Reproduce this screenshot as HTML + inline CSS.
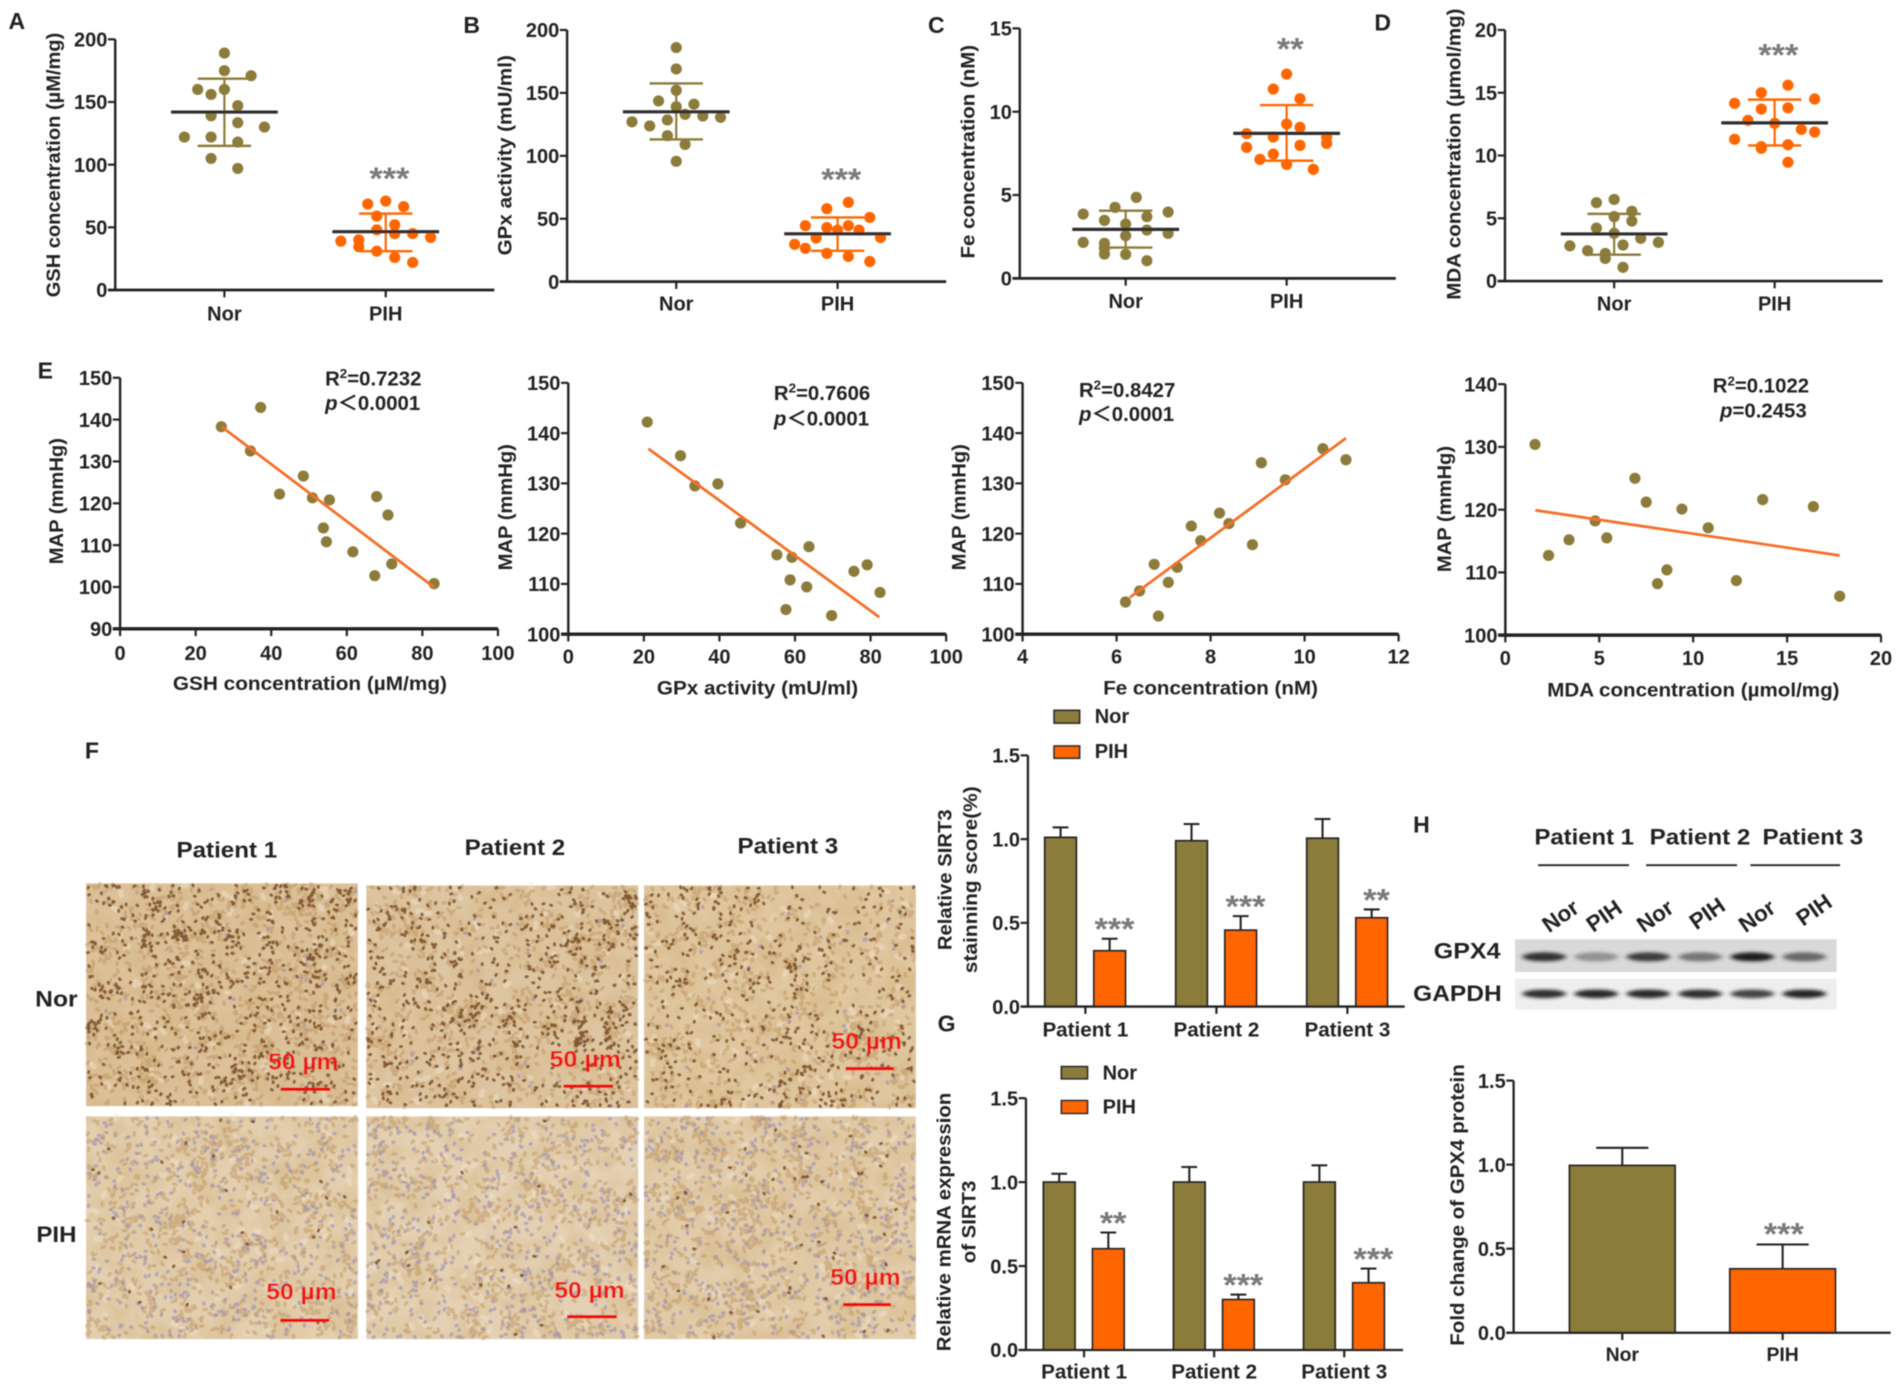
<!DOCTYPE html>
<html lang="en">
<head>
<meta charset="utf-8">
<title>Multi-panel figure: GSH, GPx, Fe, MDA and SIRT3 in Nor vs PIH</title>
<style>
html,body{margin:0;padding:0;background:#fff;}
svg{display:block;}
text{font-family:"Liberation Sans","Noto Sans CJK SC",sans-serif;font-weight:bold;fill:#222;}
</style>
</head>
<body>
<svg id="figure" xmlns="http://www.w3.org/2000/svg" width="1902" height="1387" viewBox="0 0 1568 1143" preserveAspectRatio="none">
  <defs>
    <filter id="soft" filterUnits="userSpaceOnUse" x="0" y="0" width="1568" height="1143"><feGaussianBlur stdDeviation="0.5"/></filter>
    <filter id="bandBlur" x="-40%" y="-120%" width="180%" height="340%"><feGaussianBlur stdDeviation="2.2 1.4"/></filter>
    <filter id="mottle" x="0" y="0" width="100%" height="100%">
      <feTurbulence type="fractalNoise" baseFrequency="0.045" numOctaves="3" seed="7"/>
      <feColorMatrix type="matrix" values="0 0 0 0 0.62  0 0 0 0 0.42  0 0 0 0 0.18  2.2 0 0 0 -0.85"/>
    </filter>
  </defs>
  <rect x="0" y="0" width="1568" height="1143" fill="#ffffff"/>
  <g id="root" filter="url(#soft)">
    <g id="layer-tissue"></g>
    <g id="layer-blot"></g>
    <g id="layer-charts"></g>

    <g font-size="19">
      <text x="7" y="24">A</text>
      <text x="382" y="27">B</text>
      <text x="765" y="27">C</text>
      <text x="1133" y="25">D</text>
      <text x="31" y="312">E</text>
      <text x="70" y="625">F</text>
      <text x="773" y="850">G</text>
      <text x="1165" y="686">H</text>
    </g>

    <g text-anchor="middle" font-size="16">
      <text transform="translate(49.5,136) rotate(-90)" textLength="218" lengthAdjust="spacingAndGlyphs">GSH concentration (µM/mg)</text>
      <text transform="translate(421.5,128) rotate(-90)" textLength="165" lengthAdjust="spacingAndGlyphs">GPx activity (mU/ml)</text>
      <text transform="translate(803.5,125) rotate(-90)" textLength="176" lengthAdjust="spacingAndGlyphs">Fe concentration (nM)</text>
      <text transform="translate(1204,127) rotate(-90)" textLength="240" lengthAdjust="spacingAndGlyphs">MDA concentration (µmol/mg)</text>
      <text transform="translate(52,413) rotate(-90)" textLength="104" lengthAdjust="spacingAndGlyphs">MAP (mmHg)</text>
      <text transform="translate(422,418) rotate(-90)" textLength="104" lengthAdjust="spacingAndGlyphs">MAP (mmHg)</text>
      <text transform="translate(796,418) rotate(-90)" textLength="104" lengthAdjust="spacingAndGlyphs">MAP (mmHg)</text>
      <text transform="translate(1196,419.5) rotate(-90)" textLength="104" lengthAdjust="spacingAndGlyphs">MAP (mmHg)</text>
      <text transform="translate(784.5,725) rotate(-90)" textLength="116" lengthAdjust="spacingAndGlyphs">Relative SIRT3</text>
      <text transform="translate(805.5,725) rotate(-90)" textLength="154" lengthAdjust="spacingAndGlyphs">stainning score(%)</text>
      <text transform="translate(783.5,1007) rotate(-90)" textLength="213" lengthAdjust="spacingAndGlyphs">Relative mRNA expression</text>
      <text transform="translate(804,1007) rotate(-90)" textLength="68" lengthAdjust="spacingAndGlyphs">of SIRT3</text>
      <text transform="translate(1207,993) rotate(-90)" textLength="232" lengthAdjust="spacingAndGlyphs">Fold change of GPX4 protein</text>
    </g>

    <g text-anchor="middle" font-size="16">
      <text x="255.5" y="568.5" textLength="226" lengthAdjust="spacingAndGlyphs">GSH concentration (µM/mg)</text>
      <text x="624.5" y="572.5" textLength="166" lengthAdjust="spacingAndGlyphs">GPx activity (mU/ml)</text>
      <text x="998" y="572.5" textLength="177" lengthAdjust="spacingAndGlyphs">Fe concentration (nM)</text>
      <text x="1396" y="574" textLength="241" lengthAdjust="spacingAndGlyphs">MDA concentration (µmol/mg)</text>
    </g>

    <g font-size="16.8">
      <text x="268" y="317.5">R<tspan font-size="11" dy="-6">2</tspan><tspan dy="6">=0.7232</tspan></text>
      <text x="268" y="338"><tspan font-style="italic">p</tspan>＜0.0001</text>
      <text x="638" y="329.5">R<tspan font-size="11" dy="-6">2</tspan><tspan dy="6">=0.7606</tspan></text>
      <text x="638" y="350.5"><tspan font-style="italic">p</tspan>＜0.0001</text>
      <text x="889.5" y="327">R<tspan font-size="11" dy="-6">2</tspan><tspan dy="6">=0.8427</tspan></text>
      <text x="889.5" y="347"><tspan font-style="italic">p</tspan>＜0.0001</text>
      <text x="1412" y="323.5">R<tspan font-size="11" dy="-6">2</tspan><tspan dy="6">=0.1022</tspan></text>
      <text x="1418" y="344"><tspan font-style="italic">p</tspan>=0.2453</text>
    </g>

    <g font-size="18.5">
      <text x="145.5" y="706.5" textLength="83" lengthAdjust="spacingAndGlyphs">Patient 1</text>
      <text x="383" y="704.5" textLength="83" lengthAdjust="spacingAndGlyphs">Patient 2</text>
      <text x="608" y="703.5" textLength="83" lengthAdjust="spacingAndGlyphs">Patient 3</text>
      <text x="29" y="829.5" textLength="35" lengthAdjust="spacingAndGlyphs">Nor</text>
      <text x="30" y="1023.5" textLength="33" lengthAdjust="spacingAndGlyphs">PIH</text>
    </g>

    <g font-size="18.5">
      <text x="1265" y="696" textLength="82" lengthAdjust="spacingAndGlyphs">Patient 1</text>
      <text x="1360" y="696" textLength="83" lengthAdjust="spacingAndGlyphs">Patient 2</text>
      <text x="1453" y="696" textLength="83" lengthAdjust="spacingAndGlyphs">Patient 3</text>
      <text x="1182" y="790" textLength="55" lengthAdjust="spacingAndGlyphs">GPX4</text>
      <text x="1165" y="825" textLength="73" lengthAdjust="spacingAndGlyphs">GAPDH</text>
      <line x1="1268" y1="713" x2="1343" y2="713" stroke="#222" stroke-width="1.6"/>
      <line x1="1357" y1="713" x2="1432" y2="713" stroke="#222" stroke-width="1.6"/>
      <line x1="1443" y1="713" x2="1517" y2="713" stroke="#222" stroke-width="1.6"/>
      <text transform="translate(1290,760) rotate(-35)" text-anchor="middle" font-size="18.5">Nor</text>
      <text transform="translate(1326,760) rotate(-35)" text-anchor="middle" font-size="18.5">PIH</text>
      <text transform="translate(1368,760) rotate(-35)" text-anchor="middle" font-size="18.5">Nor</text>
      <text transform="translate(1411,758) rotate(-35)" text-anchor="middle" font-size="18.5">PIH</text>
      <text transform="translate(1452,760) rotate(-35)" text-anchor="middle" font-size="18.5">Nor</text>
      <text transform="translate(1499,755) rotate(-35)" text-anchor="middle" font-size="18.5">PIH</text>
    </g>

    <g font-size="19">
      <text x="221" y="881.5" style="fill:#f01414" textLength="58" lengthAdjust="spacingAndGlyphs">50 µm</text>
      <rect x="231.3" y="896.2" width="41" height="2.8" fill="#ee1111"/>
      <text x="453" y="879.5" style="fill:#f01414" textLength="59" lengthAdjust="spacingAndGlyphs">50 µm</text>
      <rect x="464.5" y="893.7" width="41" height="2.8" fill="#ee1111"/>
      <text x="685.5" y="864.5" style="fill:#f01414" textLength="58" lengthAdjust="spacingAndGlyphs">50 µm</text>
      <rect x="697" y="879.2" width="40" height="2.8" fill="#ee1111"/>
      <text x="219.5" y="1071" style="fill:#f01414" textLength="58" lengthAdjust="spacingAndGlyphs">50 µm</text>
      <rect x="231" y="1086.7" width="40.5" height="2.8" fill="#ee1111"/>
      <text x="457" y="1069.5" style="fill:#f01414" textLength="58" lengthAdjust="spacingAndGlyphs">50 µm</text>
      <rect x="467.5" y="1083.7" width="41" height="2.8" fill="#ee1111"/>
      <text x="684.5" y="1059" style="fill:#f01414" textLength="58" lengthAdjust="spacingAndGlyphs">50 µm</text>
      <rect x="695" y="1073.7" width="39.5" height="2.8" fill="#ee1111"/>
    </g>

    <g font-size="16.5">
      <rect x="869" y="585.4" width="21" height="10.5" fill="#8c7c3b" stroke="#2b2b2b" stroke-width="1.4"/>
      <text x="902.5" y="595.8">Nor</text>
      <rect x="869" y="614.8" width="21" height="10" fill="#ff6600" stroke="#2b2b2b" stroke-width="1.4"/>
      <text x="902.5" y="624.8">PIH</text>
      <rect x="875" y="879" width="21.5" height="10" fill="#8c7c3b" stroke="#2b2b2b" stroke-width="1.4"/>
      <text x="909" y="889.5">Nor</text>
      <rect x="875" y="907" width="21.5" height="10.5" fill="#ff6600" stroke="#2b2b2b" stroke-width="1.4"/>
      <text x="909" y="917.5">PIH</text>
    </g>
  </g>
</svg>

<script>
/* ---------- Panel A: GSH ---------- */
const panelACategories = ['Nor', 'PIH'];
const panelAYTicks = ['0', '50', '100', '150', '200'];
const panelANorValues = [189, 175, 171, 160, 160, 156, 147, 139, 133.5, 130, 122, 122, 118, 105, 97];
const panelANorJitter = [0, 0, 2, -2, 0, -1, 1, -1, 1, 3, -3, -1, 1, -1, 1];
const panelAPihValues = [71, 68.6, 66.5, 59, 52, 48, 45, 45, 42, 39, 40, 34.6, 31, 26, 22];
const panelAPihJitter = [0, -2, 2, -1, 1, -1, 1, 3, 5, -5, -3, -3, -1, 1, 3];
const panelAMeans = [142, 46.5];
const panelAUpper = [168.6, 61];
const panelALower = [115, 31];
const panelAStars = ['', '***'];
const panelAStarLevels = [0, 92];

/* ---------- Panel B: GPx ---------- */
const panelBCategories = ['Nor', 'PIH'];
const panelBYTicks = ['0', '50', '100', '150', '200'];
const panelBNorValues = [186, 169, 152, 143.6, 141, 139, 133, 131.6, 130.6, 128.5, 127, 123.7, 116, 109, 95.6];
const panelBNorJitter = [0, 0, 0, -2, 2, 0, 1, 3, 5, -1, -5, -3, -1, 1, 0];
const panelBPihValues = [63, 58, 51, 44.5, 43, 44.5, 41, 41, 34.7, 35, 29.7, 26.5, 22.5, 20, 16];
const panelBPihJitter = [1, -1, 3, -3, -1, 1, 0, 2, -2, 4, -4, -3, -1, 1, 3];
const panelBMeans = [135, 38];
const panelBUpper = [157.5, 51];
const panelBLower = [113, 24.5];
const panelBStars = ['', '***'];
const panelBStarLevels = [0, 84.4];

/* ---------- Panel C: Fe ---------- */
const panelCCategories = ['Nor', 'PIH'];
const panelCYTicks = ['0', '5', '10', '15'];
const panelCNorValues = [4.86, 4.26, 3.86, 3.98, 3.7, 3.48, 3.26, 2.9, 2.7, 2.56, 2.16, 2.1, 1.8, 1.46, 1.44, 1.06];
const panelCNorJitter = [1, -1, -4, 4, 2, -2, 0, 2, 4, 0, -4, -2, -2, -2, 0, 2];
const panelCPihValues = [12.26, 11.36, 10.78, 9.26, 9.06, 8.68, 8.48, 8.48, 8.1, 7.98, 7.86, 7.46, 7.14, 6.84, 6.54];
const panelCPihJitter = [0, -1, 1, 0, 1, -3, -1, 3, 3, 1, -3, -1, -2, 0, 2];
const panelCMeans = [2.94, 8.7];
const panelCUpper = [4.06, 10.4];
const panelCLower = [1.85, 7.06];
const panelCStars = ['', '**'];
const panelCStarLevels = [0, 14];

/* ---------- Panel D: MDA ---------- */
const panelDCategories = ['Nor', 'PIH'];
const panelDYTicks = ['0', '5', '10', '15', '20'];
const panelDNorValues = [6.5, 6.24, 5.55, 5.13, 4.78, 4.22, 3.8, 3.4, 3.08, 2.87, 2.8, 2.42, 2.2, 1.8, 1.09];
const panelDNorJitter = [0, -2, 2, 0, 2, -2, 0, 3, 5, 1, -5, -3, -1, -1, 1];
const panelDPihValues = [15.6, 15, 14.16, 14.5, 13.8, 13.7, 12.8, 12.56, 12.08, 11.87, 11.29, 10.86, 10.7, 10.57, 9.46];
const panelDPihJitter = [1, -1, -3, 3, 1, -1, -2, 0, 2, 3, -3, 1, -1, -1, 1];
const panelDMeans = [3.75, 12.6];
const panelDUpper = [5.35, 14.45];
const panelDLower = [2.1, 10.8];
const panelDStars = ['', '***'];
const panelDStarLevels = [0, 18.3];

/* ---------- Panel E: correlations ---------- */
const corrGshXTicks = ['0', '20', '40', '60', '80', '100'];
const corrGshYTicks = ['90', '100', '110', '120', '130', '140', '150'];
const corrGshX = [26.8, 37.2, 34.5, 48.5, 42.2, 50.9, 55.4, 67.9, 70.9, 53.8, 54.6, 61.6, 71.9, 67.4, 83.1];
const corrGshY = [138.3, 142.9, 132.5, 126.5, 122.2, 121.3, 120.8, 121.6, 117.2, 114.1, 110.8, 108.4, 105.5, 102.7, 100.8];
const corrGshFitX = [27, 83];
const corrGshFitY = [138.2, 100];

const corrGpxXTicks = ['0', '20', '40', '60', '80', '100'];
const corrGpxYTicks = ['100', '110', '120', '130', '140', '150'];
const corrGpxX = [20.9, 29.7, 33.5, 39.6, 45.6, 55.2, 59.2, 63.7, 58.7, 63.1, 57.6, 69.7, 75.6, 79.1, 82.5];
const corrGpxY = [142.2, 135.5, 129.5, 129.9, 122.1, 115.8, 115.3, 117.4, 110.8, 109.4, 104.9, 103.7, 112.5, 113.8, 108.3];
const corrGpxFitX = [21.2, 82.3];
const corrGpxFitY = [136.9, 103.4];

const corrFeXTicks = ['4', '6', '8', '10', '12'];
const corrFeYTicks = ['100', '110', '120', '130', '140', '150'];
const corrFeX = [6.19, 6.49, 6.8, 6.89, 7.1, 7.29, 7.59, 7.79, 8.19, 8.39, 8.89, 9.08, 9.59, 10.39, 10.88];
const corrFeY = [106.4, 108.6, 113.9, 103.6, 110.3, 113.3, 121.5, 118.6, 124.1, 122, 117.8, 134.1, 130.7, 136.9, 134.7];
const corrFeFitX = [6.28, 10.88];
const corrFeFitY = [107.3, 139];

const corrMdaXTicks = ['0', '5', '10', '15', '20'];
const corrMdaYTicks = ['100', '110', '120', '130', '140'];
const corrMdaX = [1.58, 2.3, 3.39, 4.78, 5.4, 6.9, 7.5, 8.1, 8.6, 9.4, 10.8, 12.3, 13.7, 16.4, 17.8];
const corrMdaY = [130.4, 112.7, 115.2, 118.2, 115.5, 125, 121.2, 108.2, 110.4, 120.1, 117.1, 108.7, 121.6, 120.5, 106.2];
const corrMdaFitX = [1.6, 17.8];
const corrMdaFitY = [119.9, 112.7];

/* ---------- Bar panels ---------- */
const barYTicks = ['0.0', '0.5', '1.0', '1.5'];
const patientCategories = ['Patient 1', 'Patient 2', 'Patient 3'];

const stainNorValues = [1.01, 0.99, 1.005];
const stainNorErrorTops = [1.07, 1.09, 1.12];
const stainPihValues = [0.333, 0.456, 0.53];
const stainPihErrorTops = [0.405, 0.54, 0.58];
const stainStars = ['***', '***', '**'];

const mrnaNorValues = [1, 1, 1];
const mrnaNorErrorTops = [1.05, 1.09, 1.1];
const mrnaPihValues = [0.603, 0.3, 0.4];
const mrnaPihErrorTops = [0.7, 0.33, 0.485];
const mrnaStars = ['**', '***', '***'];

const proteinCategories = ['Nor', 'PIH'];
const proteinValues = [0.995, 0.38];
const proteinErrorTops = [1.1, 0.525];
const proteinStars = ['', '***'];

/* ---------- Western blot band strengths ---------- */
const gpx4BandStrength = [0.85, 0.36, 0.8, 0.5, 0.95, 0.58];
const gapdhBandStrength = [0.88, 0.9, 0.9, 0.88, 0.78, 0.92];

const OLIVE = '#8c7c3b';
const ORANGE = '#ff6600';
const INK = '#232323';
const NS = 'http://www.w3.org/2000/svg';
const chartsLayer = document.getElementById('layer-charts');

function make(tag, parent, attrs) {
  const node = document.createElementNS(NS, tag);
  for (const key in attrs) node.setAttribute(key, attrs[key]);
  parent.appendChild(node);
  return node;
}
function linear(d0, d1, r0, r1) {
  return function (v) { return r0 + (v - d0) * (r1 - r0) / (d1 - d0); };
}
function label(parent, str, x, y, anchor, size) {
  const t = make('text', parent, { x: x, y: y + size * 0.36, 'text-anchor': anchor, 'font-size': size });
  t.textContent = str;
  return t;
}
function stars(parent, str, x, y) {
  const w = str.length * 11;
  const t = make('text', parent, { x: x, y: y + 11.8, 'text-anchor': 'middle', 'font-size': 26, textLength: w, lengthAdjust: 'spacingAndGlyphs', style: 'fill:#7a7a7a' });
  t.textContent = str;
  
  
  return t;
}
function drawYAxis(parent, axisX, yScale, tickLabels, topValue, bottomValue, width) {
  const line = make('line', parent, { x1: axisX, x2: axisX, y1: yScale(topValue), y2: yScale(bottomValue), stroke: INK, 'stroke-width': width });
  
  
  tickLabels.forEach(function (tickText) {
    const v = parseFloat(tickText);
    const tick = make('line', parent, { x1: axisX - 6, x2: axisX, y1: yScale(v), y2: yScale(v), stroke: INK, 'stroke-width': 1.8 });
    
    
    const text = label(parent, tickText, axisX - 6.5, yScale(v), 'end', 16.5);
    
    
  });
}
function drawXBaseline(parent, x1, x2, y, width) {
  const base = make('line', parent, { x1: x1, x2: x2, y1: y, y2: y, stroke: INK, 'stroke-width': width });
  
  
}
function drawCategoryTick(parent, x, y, labelY, str, size) {
  const tick = make('line', parent, { x1: x, x2: x, y1: y, y2: y + 6, stroke: INK, 'stroke-width': 1.8 });
  
  
  const text = label(parent, str, x, labelY, 'middle', size);
  
  
}

/* Dot plot with mean and SD */
function drawDotPanel(cfg) {
  const g = make('g', chartsLayer, {});
  
  
  const top = parseFloat(cfg.ticks[cfg.ticks.length - 1]);
  const y = linear(0, top, cfg.yBottom, cfg.yTop);
  const x = linear(0, cfg.categories.length - 1, cfg.catX0, cfg.catX1);
  cfg.groups.forEach(function (group, i) {
    const cx = x(i);
    const color = i === 0 ? OLIVE : ORANGE;
    const stem = make('line', g, { x1: cx, x2: cx, y1: y(cfg.upper[i]), y2: y(cfg.lower[i]), stroke: color, 'stroke-width': 1.8 });
    
    
    [cfg.upper[i], cfg.lower[i]].forEach(function (v) {
      const cap = make('line', g, { x1: cx - 22, x2: cx + 22, y1: y(v), y2: y(v), stroke: color, 'stroke-width': 2 });
      
      
    });
    group.values.forEach(function (value, k) {
      const dot = make('circle', g, { cx: cx + group.jitter[k] * group.slot, cy: y(value), r: 4.6, fill: color });
      
      
    });
    const mean = make('line', g, { x1: cx - 44, x2: cx + 44, y1: y(cfg.means[i]), y2: y(cfg.means[i]), stroke: '#2f2f2f', 'stroke-width': 2.6 });
    
    
    if (cfg.stars[i]) stars(g, cfg.stars[i], cx + 3, y(cfg.starLevels[i]));
    drawCategoryTick(g, cx, cfg.yBottom, cfg.labelY, cfg.categories[i], 16.5);
  });
  drawYAxis(g, cfg.axisX, y, cfg.ticks, top, 0, 2);
  drawXBaseline(g, cfg.axisX - 6, cfg.axisEnd, cfg.yBottom, 2.2);
}

/* Scatter plot with linear fit */
function drawCorrPanel(cfg) {
  const g = make('g', chartsLayer, {});
  
  
  const xT = cfg.xTicks.map(parseFloat);
  const yT = cfg.yTicks.map(parseFloat);
  const x = linear(xT[0], xT[xT.length - 1], cfg.left, cfg.right);
  const y = linear(yT[0], yT[yT.length - 1], cfg.bottom, cfg.top);
  cfg.xs.forEach(function (v, i) {
    const dot = make('circle', g, { cx: x(v), cy: y(cfg.ys[i]), r: 4.6, fill: OLIVE });
    
    
  });
  const fit = make('line', g, { x1: x(cfg.fitX[0]), y1: y(cfg.fitY[0]), x2: x(cfg.fitX[1]), y2: y(cfg.fitY[1]), stroke: '#f4702a', 'stroke-width': 2.3 });
  
  
  drawYAxis(g, cfg.left, y, cfg.yTicks, yT[yT.length - 1], yT[0], 2);
  drawXBaseline(g, cfg.left - 6, cfg.right, cfg.bottom, 2.8);
  cfg.xTicks.forEach(function (tickText, i) {
    drawCategoryTick(g, x(xT[i]), cfg.bottom, cfg.labelY, tickText, 16.5);
  });
}

/* Grouped bars */
function drawBar(g, cx, width, value, errTop, color, y, capHalf) {
  const err = make('line', g, { x1: cx, x2: cx, y1: y(errTop), y2: y(value), stroke: INK, 'stroke-width': 1.7 });
  
  
  const cap = make('line', g, { x1: cx - capHalf, x2: cx + capHalf, y1: y(errTop), y2: y(errTop), stroke: INK, 'stroke-width': 1.7 });
  
  
  const bar = make('rect', g, { x: cx - width / 2, y: y(value), width: width, height: y(0) - y(value), fill: color, stroke: INK, 'stroke-width': 1.5 });
  
  
}
function drawGroupedBars(cfg) {
  const g = make('g', chartsLayer, {});
  
  
  const y = linear(0, 1.5, cfg.bottom, cfg.top);
  const x = linear(0, cfg.categories.length - 1, cfg.cat0, cfg.cat1);
  cfg.categories.forEach(function (cat, i) {
    const cx = x(i);
    drawBar(g, cx - 20.5, 26, cfg.nor[i], cfg.norTop[i], OLIVE, y, 6.5);
    drawBar(g, cx + 20, 26, cfg.pih[i], cfg.pihTop[i], ORANGE, y, 6.5);
    stars(g, cfg.stars[i], cx + 24, y(cfg.pihTop[i]) - 11);
    drawCategoryTick(g, cx, cfg.bottom, cfg.labelY, cat, 17);
  });
  drawYAxis(g, cfg.left, y, barYTicks, 1.5, 0, 1.9);
  drawXBaseline(g, cfg.left - 6, cfg.right, cfg.bottom, 1.9);
}
function drawSimpleBars(cfg) {
  const g = make('g', chartsLayer, {});
  
  
  const y = linear(0, 1.5, cfg.bottom, cfg.top);
  const x = linear(0, cfg.categories.length - 1, cfg.cat0, cfg.cat1);
  cfg.categories.forEach(function (cat, i) {
    drawBar(g, x(i), 87, cfg.values[i], cfg.errTop[i], i === 0 ? OLIVE : ORANGE, y, 21.5);
    if (cfg.stars[i]) stars(g, cfg.stars[i], x(i) + 1, y(cfg.errTop[i]) - 12);
    drawCategoryTick(g, x(i), cfg.bottom, cfg.labelY, cat, 16);
  });
  drawYAxis(g, cfg.left, y, barYTicks, 1.5, 0, 1.9);
  drawXBaseline(g, cfg.left - 6, cfg.right, cfg.bottom, 1.9);
}

drawDotPanel({ name: 'panel-a-gsh', categories: panelACategories, ticks: panelAYTicks, axisX: 95, axisEnd: 407.5, yTop: 32.4, yBottom: 239, catX0: 185, catX1: 318, labelY: 258, means: panelAMeans, upper: panelAUpper, lower: panelALower, stars: panelAStars, starLevels: panelAStarLevels,
  groups: [{ values: panelANorValues, jitter: panelANorJitter, slot: 11 }, { values: panelAPihValues, jitter: panelAPihJitter, slot: 7.4 }] });
drawDotPanel({ name: 'panel-b-gpx', categories: panelBCategories, ticks: panelBYTicks, axisX: 467.5, axisEnd: 780, yTop: 24.7, yBottom: 232.1, catX0: 557.5, catX1: 690.5, labelY: 250, means: panelBMeans, upper: panelBUpper, lower: panelBLower, stars: panelBStars, starLevels: panelBStarLevels,
  groups: [{ values: panelBNorValues, jitter: panelBNorJitter, slot: 7.3 }, { values: panelBPihValues, jitter: panelBPihJitter, slot: 8.85 }] });
drawDotPanel({ name: 'panel-c-fe', categories: panelCCategories, ticks: panelCYTicks, axisX: 840.7, axisEnd: 1150.7, yTop: 23.4, yBottom: 229.4, catX0: 928, catX1: 1060.7, labelY: 248, means: panelCMeans, upper: panelCUpper, lower: panelCLower, stars: panelCStars, starLevels: panelCStarLevels,
  groups: [{ values: panelCNorValues, jitter: panelCNorJitter, slot: 8.75 }, { values: panelCPihValues, jitter: panelCPihJitter, slot: 11 }] });
drawDotPanel({ name: 'panel-d-mda', categories: panelDCategories, ticks: panelDYTicks, axisX: 1240.7, axisEnd: 1552, yTop: 24.7, yBottom: 231.6, catX0: 1330.7, catX1: 1463, labelY: 250, means: panelDMeans, upper: panelDUpper, lower: panelDLower, stars: panelDStars, starLevels: panelDStarLevels,
  groups: [{ values: panelDNorValues, jitter: panelDNorJitter, slot: 7.3 }, { values: panelDPihValues, jitter: panelDPihJitter, slot: 11 }] });

drawCorrPanel({ name: 'panel-e-gsh-map', xTicks: corrGshXTicks, yTicks: corrGshYTicks, xs: corrGshX, ys: corrGshY, fitX: corrGshFitX, fitY: corrGshFitY, left: 99, right: 410.5, top: 311.3, bottom: 518.2, labelY: 538 });
drawCorrPanel({ name: 'panel-e-gpx-map', xTicks: corrGpxXTicks, yTicks: corrGpxYTicks, xs: corrGpxX, ys: corrGpxY, fitX: corrGpxFitX, fitY: corrGpxFitY, left: 468.5, right: 780, top: 315.5, bottom: 522.6, labelY: 541 });
drawCorrPanel({ name: 'panel-e-fe-map', xTicks: corrFeXTicks, yTicks: corrFeYTicks, xs: corrFeX, ys: corrFeY, fitX: corrFeFitX, fitY: corrFeFitY, left: 843, right: 1153, top: 315.5, bottom: 522.6, labelY: 541 });
drawCorrPanel({ name: 'panel-e-mda-map', xTicks: corrMdaXTicks, yTicks: corrMdaYTicks, xs: corrMdaX, ys: corrMdaY, fitX: corrMdaFitX, fitY: corrMdaFitY, left: 1241, right: 1550.7, top: 316.6, bottom: 523.4, labelY: 542 });

drawGroupedBars({ name: 'panel-f-sirt3-score', categories: patientCategories, nor: stainNorValues, norTop: stainNorErrorTops, pih: stainPihValues, pihTop: stainPihErrorTops, stars: stainStars, left: 847.4, right: 1158, top: 622.5, bottom: 829.5, cat0: 894.8, cat1: 1110.8, labelY: 848 });
drawGroupedBars({ name: 'panel-g-sirt3-mrna', categories: patientCategories, nor: mrnaNorValues, norTop: mrnaNorErrorTops, pih: mrnaPihValues, pihTop: mrnaPihErrorTops, stars: mrnaStars, left: 845.8, right: 1156.6, top: 905, bottom: 1112.5, cat0: 893.7, cat1: 1108.2, labelY: 1130 });
drawSimpleBars({ name: 'panel-h-gpx4-protein', categories: proteinCategories, values: proteinValues, errTop: proteinErrorTops, stars: proteinStars, left: 1247.8, right: 1558.7, top: 890.5, bottom: 1098.3, cat0: 1337.4, cat1: 1469.6, labelY: 1116 });

/* ---------- Western blot ---------- */
(function () {
  const layer = document.getElementById('layer-blot');
  function strip(name, y, h, bg, strengths, bandY, bandH) {
    const rect = make('rect', layer, { x: 1249, y: y, width: 265, height: h, fill: bg });
    
    
    strengths.forEach(function (s, i) {
      const band = make('ellipse', layer, { cx: 1273 + i * 42.9, cy: bandY, rx: 18, ry: bandH, fill: '#161616', opacity: s, filter: 'url(#bandBlur)' });
      
      
    });
  }
  strip('gpx4', 774, 27, '#d9d9d9', gpx4BandStrength, 788.5, 3.8);
  strip('gapdh', 806.5, 25.5, '#eeeeee', gapdhBandStrength, 819, 3.6);
})();

/* ---------- IHC micrograph texture (decorative, seeded) ---------- */
(function () {
  const layer = document.getElementById('layer-tissue');
  const panels = [
    { name: 'micrograph-nor-patient-1', x: 71, y: 728, w: 224, h: 183.5, bg: '#dcc19a', dark: 780, brown: 1100, purple: 25, seed: 11 },
    { name: 'micrograph-nor-patient-2', x: 302, y: 729.7, w: 224, h: 183.5, bg: '#dec5a1', dark: 700, brown: 1000, purple: 30, seed: 23 },
    { name: 'micrograph-nor-patient-3', x: 531, y: 729.7, w: 224, h: 183.5, bg: '#e0c7a0', dark: 480, brown: 850, purple: 40, seed: 37 },
    { name: 'micrograph-pih-patient-1', x: 71, y: 920, w: 224, h: 183.5, bg: '#e3ceae', dark: 30, brown: 900, purple: 430, seed: 41 },
    { name: 'micrograph-pih-patient-2', x: 302, y: 920, w: 224, h: 183.5, bg: '#e4d0b2', dark: 20, brown: 850, purple: 480, seed: 53 },
    { name: 'micrograph-pih-patient-3', x: 531, y: 920, w: 224, h: 183.5, bg: '#e2ccaa', dark: 50, brown: 950, purple: 470, seed: 67 }
  ];
  function rng(seed) {
    let a = seed * 2654435761 >>> 0;
    return function () {
      a = (a + 0x6D2B79F5) >>> 0;
      let t = a;
      t = Math.imul(t ^ (t >>> 15), t | 1);
      t ^= t + Math.imul(t ^ (t >>> 7), t | 61);
      return ((t ^ (t >>> 14)) >>> 0) / 4294967296;
    };
  }
  panels.forEach(function (p) {
    const r = rng(p.seed);
    const g = make('g', layer, {});
    
    
    const base = make('rect', g, { x: p.x, y: p.y, width: p.w, height: p.h, fill: p.bg });
    
    
    const mottle = make('rect', g, { x: p.x, y: p.y, width: p.w, height: p.h, filter: 'url(#mottle)', opacity: 0.42 });
    
    
    const centers = [];
    for (let c = 0; c < 90; c++) centers.push([p.x + r() * p.w, p.y + r() * p.h]);
    function gauss() { return (r() + r() + r() - 1.5) * 8; }
    function speckle(count, color, width, opacity, dash, clustered) {
      let d = '';
      for (let i = 0; i < count; i++) {
        let px, py;
        if (r() < clustered) {
          const c = centers[Math.floor(r() * centers.length)];
          px = c[0] + gauss();
          py = c[1] + gauss();
        } else {
          px = p.x + r() * p.w;
          py = p.y + r() * p.h;
        }
        px = Math.min(p.x + p.w - 2, Math.max(p.x + 2, px));
        py = Math.min(p.y + p.h - 2, Math.max(p.y + 2, py));
        const a = r() * 6.28;
        d += 'M' + px.toFixed(1) + ' ' + py.toFixed(1) + 'l' + (Math.cos(a) * dash).toFixed(1) + ' ' + (Math.sin(a) * dash).toFixed(1);
      }
      const path = make('path', g, { d: d, stroke: color, 'stroke-width': width, 'stroke-linecap': 'round', fill: 'none', opacity: opacity });
      
      
    }
    speckle(70, '#f3e8d3', 4.2, 0.42, 3.5, 0);
    speckle(p.brown, '#b4834a', 2.6, 0.38, 2, 0.5);
    speckle(p.purple, '#9d90b4', 2.6, 0.65, 1.1, 0.1);
    speckle(p.dark, '#6f431c', 2.4, 0.78, 1, 0.35);
  });
})();
</script>
</body>
</html>
